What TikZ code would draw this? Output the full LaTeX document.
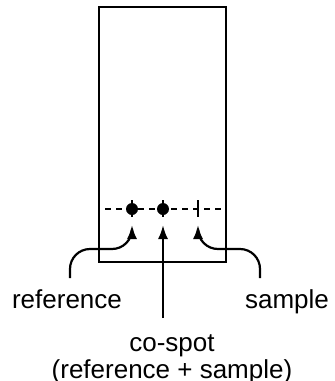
\documentclass[tikz,border=0pt]{standalone}
\usepackage{fontspec}
\setmainfont{Liberation Sans}
\usetikzlibrary{arrows.meta}

\begin{document}
\begin{tikzpicture}[x=0.5pt,y=-0.5pt,>={Latex[length=7pt,width=5pt]},
			label/.style={
				inner sep=0pt,
				align=center,
				font=\fontsize{13}{13.5}\selectfont
			},
			pointer/.style={->,line width=1.1pt,shorten >=8pt,rounded corners=10pt},
			spot/.style={fill=black}]
			
			\useasboundingbox (0,0) rectangle (335,381);
			
			\draw[line width=0.8pt] (99,7) rectangle (226,262);
			
			\coordinate (refdot) at (132,209);
			\coordinate (codot) at (163,209);
			\coordinate (sampdot) at (198,209);
			\coordinate (bend) at (0,249);
			
			\draw[line width=1.1pt,dash pattern=on 3pt off 2.5pt] (105,209)--(221,209);
			
			\foreach \d in {refdot,codot,sampdot}
				\draw[line width=0.9pt] ([yshift=4.5pt]\d)--([yshift=-4.2pt]\d);
			
			\fill[spot] (refdot) circle (3pt);
			\fill[spot] (codot) circle (3pt);
			
			\node[label,anchor=base] (ref) at (67,308) {reference};
			
			\node[label,anchor=base] (samp) at (287,308) {sample};
			
			\node[label] (cospot) at (172,359) {co-spot\\(reference + sample)};
			
			\coordinate (reffoot) at (70,278);
			\coordinate (sampfoot) at (260,278);
			\coordinate (cofoot) at (163,318);
			
			\draw[pointer] (reffoot) |- (refdot |- bend) -- (refdot);
			
			\draw[pointer] (sampfoot) |- (sampdot |- bend) -- (sampdot);
			
			\draw[pointer] (cofoot)--(codot);
			
		\end{tikzpicture}
\end{document}
